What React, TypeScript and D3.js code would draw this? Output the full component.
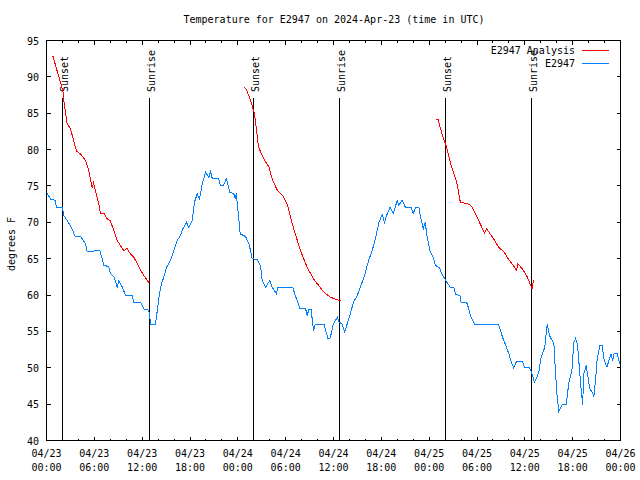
import React from "react";
import * as d3 from "d3";

// ---- data (hours since 2024-04-23 00:00 UTC) ----
const blueHours = [0.0,0.5,1.1,1.25,2.0,2.2,2.8,3.2,3.6,4.3,4.9,5.1,6.7,7.2,7.8,8.0,8.45,8.87,9.07,9.5,9.9,10.75,10.95,11.8,12.2,12.83,12.96,13.05,13.67,13.9,14.1,14.4,14.7,15.05,15.55,15.97,16.4,16.8,17.1,17.56,17.85,18.27,18.57,18.9,19.2,19.5,19.94,20.36,20.57,20.8,21.6,21.8,22.2,22.55,23.0,23.5,23.7,23.8,24.1,24.3,24.96,25.4,25.8,26.4,26.84,27.05,27.5,28.0,28.3,28.85,29.0,30.9,31.2,31.8,32.5,32.7,32.9,33.2,33.3,33.5,33.7,34.8,35.3,35.6,35.96,36.5,36.7,37.1,37.4,38.1,38.5,38.97,39.5,39.9,40.4,40.85,41.3,41.7,42.1,42.4,42.65,43.1,43.5,44.0,44.2,44.6,45.0,45.7,46.0,46.3,46.7,46.9,47.25,47.5,47.75,48.1,48.5,48.8,49.3,49.6,50.2,50.7,51.1,51.3,51.85,52.0,52.7,52.97,53.2,53.7,56.7,57.2,57.6,58.0,58.3,58.6,58.96,59.7,59.96,60.6,60.9,61.2,61.5,61.75,62.05,62.5,62.8,63.1,63.43,63.65,63.85,64.06,64.27,64.7,65.2,65.5,65.9,66.15,66.35,66.6,66.8,67.0,67.25,67.4,67.7,68.15,68.45,68.65,68.87,69.07,69.4,69.7,69.96,70.3,70.6,70.8,71.0,71.2,71.6,71.85,72.0];
const blueTemps = [74.1,73.2,73.0,72.1,72.0,70.9,69.9,69.1,68.05,68.0,67.05,66.0,66.1,64.1,63.9,63.0,62.5,61.1,62.0,61.1,60.0,60.0,59.0,59.0,58.1,57.9,56.9,56.0,56.0,57.9,59.7,61.5,62.4,63.8,64.75,66.1,67.5,68.2,69.1,70.0,69.3,70.25,72.8,73.9,73.2,75.1,76.9,76.2,77.0,76.0,76.0,75.1,75.1,76.0,74.15,73.9,73.2,74.0,70.7,68.4,68.05,67.05,65.0,64.9,64.06,62.0,61.1,62.0,61.1,60.2,61.0,61.0,59.95,58.1,58.1,57.2,57.97,57.97,56.95,55.1,56.0,56.0,54.0,54.1,56.0,56.95,56.3,56.0,54.9,57.4,59.0,59.9,61.5,62.7,64.75,66.1,67.95,70.0,71.1,70.0,70.9,72.1,71.25,73.0,72.3,73.1,72.1,72.1,71.2,72.1,72.1,70.9,69.1,70.0,67.95,66.1,65.2,64.06,63.75,62.9,61.8,61.0,61.0,60.1,59.95,59.0,59.0,58.1,57.05,56.0,56.0,54.2,53.1,51.9,50.8,50.0,50.9,50.9,50.1,50.0,49.2,48.0,48.7,49.4,51.45,52.8,56.0,54.4,53.75,53.2,49.2,45.95,44.0,44.95,44.95,47.8,49.6,53.5,54.0,53.3,50.55,47.8,44.95,49.2,50.3,47.1,46.65,46.05,48.25,51.2,53.0,53.0,51.0,50.1,51.2,51.9,51.0,51.9,51.9,50.8,50.3];

const red1Hours = [0.79,2.05,2.17,2.6,3.0,3.4,3.76,4.26,4.9,5.3,5.73,5.9,6.56,6.77,7.2,7.6,8.0,8.45,8.86,9.28,9.7,10.1,10.5,10.95,11.4,11.8,12.2,12.83,13.0];
const red1Temps = [92.9,88.1,86.75,83.5,82.9,81.25,79.8,79.4,78.5,77.1,74.8,75.4,72.5,71.25,71.25,70.5,70.2,68.9,67.5,66.8,66.1,66.4,65.7,65.2,64.3,63.4,62.7,61.7,62.0];
const red2Hours = [24.84,25.1,25.6,26.1,26.6,27.26,27.9,28.3,28.9,29.6,30.2,31.0,31.86,32.7,33.5,34.8,35.6,36.9];
const red2Temps = [88.6,88.2,86.75,84.9,80.3,78.7,77.6,76.0,74.5,73.7,72.5,69.1,66.1,63.8,62.2,60.4,59.7,59.2];
const red3Hours = [48.9,49.1,49.6,50.2,50.7,51.1,51.5,51.9,52.97,53.4,54.0,54.4,54.94,55.2,56.1,56.7,57.4,57.99,58.4,58.96,59.1,59.7,60.3,60.9,61.1];
const red3Temps = [84.1,84.2,82.2,80.3,78.05,76.7,75.3,72.8,72.5,72.1,70.7,69.8,68.5,69.1,67.7,66.6,65.9,64.85,64.3,63.4,64.3,63.6,62.5,60.9,62.1];

const sunEvents = ["Sunset","Sunrise","Sunset","Sunrise","Sunset","Sunrise"];
const sunHours = [2.0,12.87,26.02,36.79,50.06,60.83];

const yTicks = [40,45,50,55,60,65,70,75,80,85,90,95];
const title = "Temperature for E2947 on 2024-Apr-23 (time in UTC)";
const yLabel = "degrees F";
const seriesNames = ["E2947 Analysis","E2947"];
const seriesColors = ["#ff0000","#0080ff"];

const start = Date.UTC(2024,3,23,0,0);
const toDate = (h: number) => new Date(start + h*3600000);

export default function App() {
  const W = 640, H = 480;
  const L = 46.5, R = 621.5, T = 40.5, B = 440.5;
  const x = d3.scaleUtc().domain([toDate(0), toDate(72)]).range([L, R - 1]);
  const y = d3.scaleLinear().domain([40,95]).range([B, T]);
  const font = "'DejaVu Sans Mono', 'Liberation Mono', monospace";
  const line = d3.line<[number,number]>().x(d => x(toDate(d[0]))).y(d => y(d[1]));
  const zip = (a: number[], b: number[]) => a.map((v,i) => [v, b[i]] as [number,number]);
  const majors = d3.utcHour.every(6)!.range(toDate(0), toDate(72.01));
  const minors = d3.utcHour.every(2)!.range(toDate(0), toDate(72.01));
  const fmtD = d3.utcFormat("%m/%d");
  const fmtT = d3.utcFormat("%H:%M");
  const reds = [zip(red1Hours,red1Temps), zip(red2Hours,red2Temps), zip(red3Hours,red3Temps)];
  const blue = zip(blueHours, blueTemps);
  return (
    <svg width={W} height={H} style={{position:"absolute", left:0, top:0, background:"#fff"}} fontFamily={font} fontSize={10}>
      <rect x={0} y={0} width={W} height={H} fill="#fff" />
      <text x={(L+R)/2} y={23} textAnchor="middle">{title}</text>
      <text transform={`translate(14.5,244) rotate(-90)`} textAnchor="middle">{yLabel}</text>
      {/* y ticks */}
      {yTicks.map(t => {
        const yy = Math.floor(y(t)) + 0.5;
        return (
          <g key={"y"+t}>
            <line x1={L} x2={L+4} y1={yy} y2={yy} stroke="#000" shapeRendering="crispEdges" />
            <line x1={R-1} x2={R-5} y1={yy} y2={yy} stroke="#000" shapeRendering="crispEdges" />
            <text x={39} y={y(t)+4} textAnchor="end">{t}</text>
          </g>
        );
      })}
      {/* x ticks */}
      {minors.map((d,i) => {
        const isMajor = d.getUTCHours() % 6 === 0;
        const len = isMajor ? 4 : 2;
        const xx = Math.floor(x(d)) + 0.5;
        return (
          <g key={"x"+i}>
            <line x1={xx} x2={xx} y1={B} y2={B-len} stroke="#000" shapeRendering="crispEdges" />
            <line x1={xx} x2={xx} y1={T} y2={T+len} stroke="#000" shapeRendering="crispEdges" />
          </g>
        );
      })}
      {majors.map((d,i) => (
        <g key={"xl"+i}>
          <text x={x(d)} y={457} textAnchor="middle">{fmtD(d)}</text>
          <text x={x(d)} y={471} textAnchor="middle">{fmtT(d)}</text>
        </g>
      ))}
      {/* sun events */}
      {sunHours.map((h,i) => {
        const xx = Math.floor(x(toDate(h))) + 0.5;
        return (
          <g key={"s"+i}>
            <line x1={xx} x2={xx} y1={98} y2={B} stroke="#000" shapeRendering="crispEdges" />
            <text transform={`translate(${xx+5},92) rotate(-90)`} textAnchor="start">{sunEvents[i]}</text>
          </g>
        );
      })}
      {/* data */}
      {reds.map((r,i) => (
        <path key={"r"+i} d={line(r) || ""} fill="none" stroke={seriesColors[0]} strokeWidth={1} shapeRendering="crispEdges" />
      ))}
      <path d={line(blue) || ""} fill="none" stroke={seriesColors[1]} strokeWidth={1} shapeRendering="crispEdges" />
      {/* legend */}
      {seriesNames.map((n,i) => (
        <g key={"lg"+i}>
          <text x={575} y={54 + i*12.5} textAnchor="end">{n}</text>
          <line x1={582} x2={609} y1={50.5 + i*12.5} y2={50.5 + i*12.5} stroke={seriesColors[i]} shapeRendering="crispEdges" />
        </g>
      ))}
      <rect x={L} y={T} width={R-L-1} height={B-T} fill="none" stroke="#000" shapeRendering="crispEdges" />
    </svg>
  );
}
